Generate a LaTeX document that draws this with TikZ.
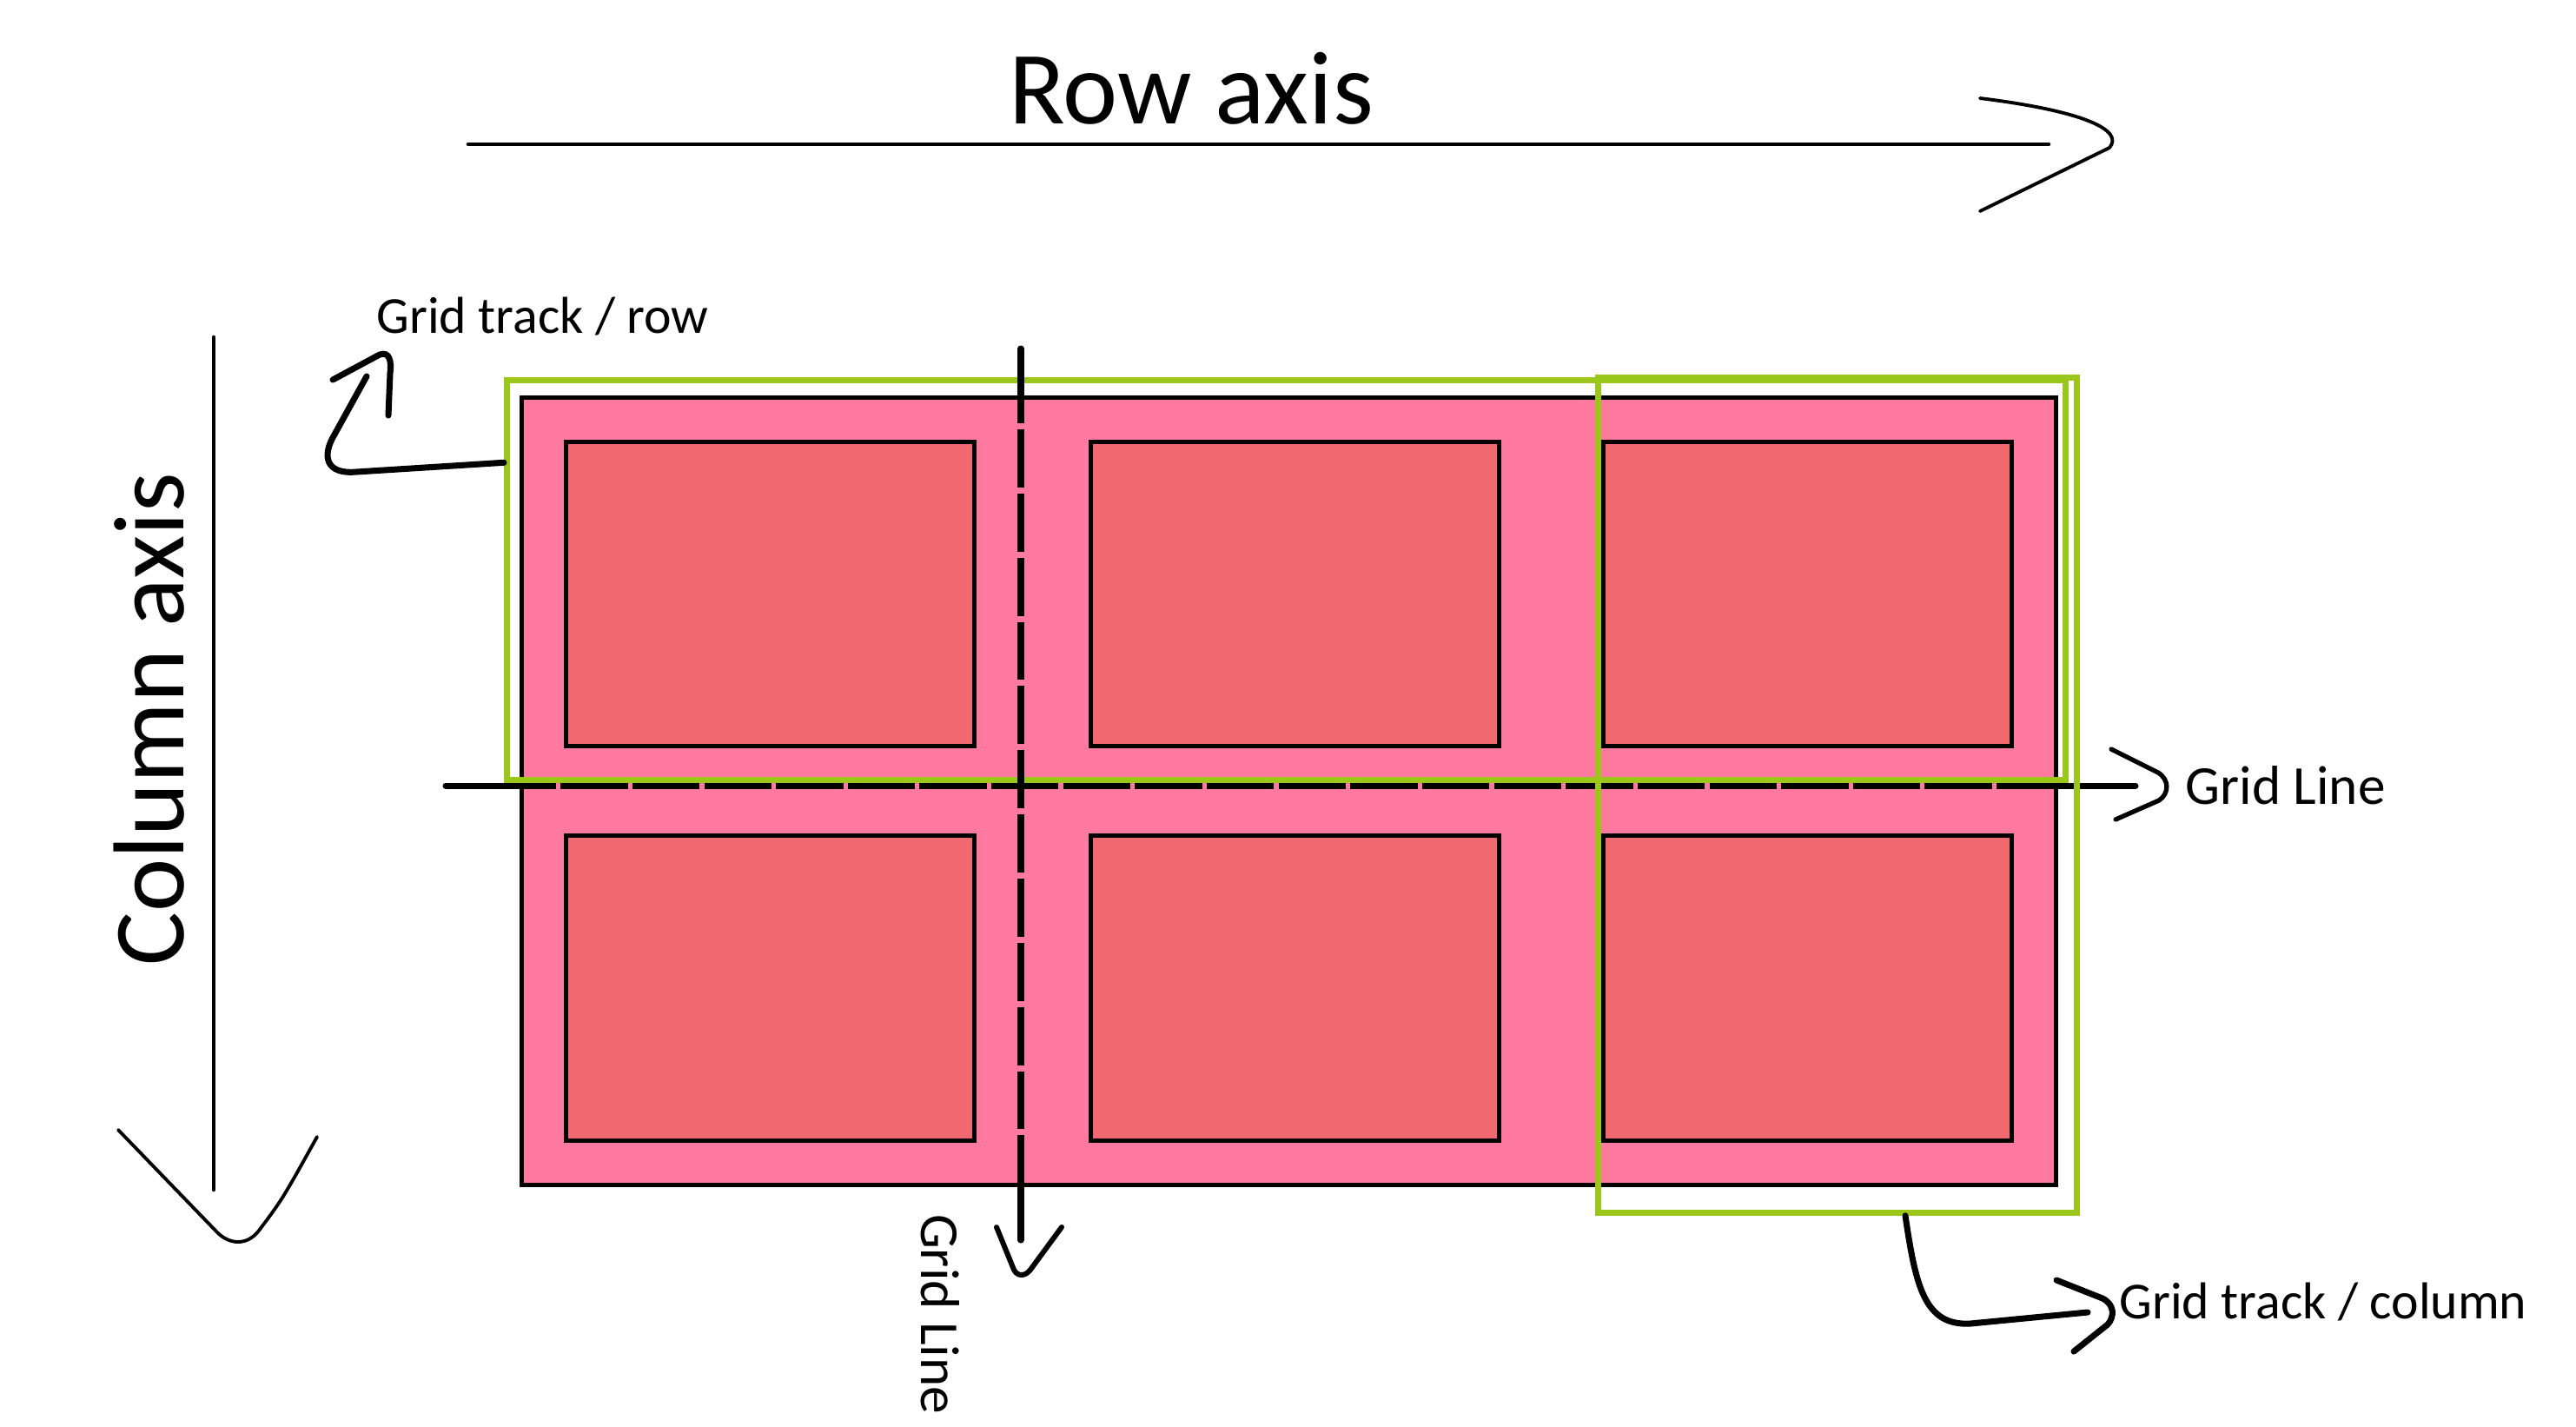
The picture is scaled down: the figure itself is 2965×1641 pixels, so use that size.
\documentclass[tikz,border=0pt]{standalone}
\usepackage{fontspec}
\setmainfont{Carlito}
\usetikzlibrary{positioning,calc}
\definecolor{gridpink}{RGB}{255,121,161}
\definecolor{cellred}{RGB}{241,104,112}
\definecolor{trackgreen}{RGB}{155,198,26}
\tikzset{
  container/.style={draw=black, fill=gridpink, line width=1.4pt, minimum width=17.65cm, minimum height=9.05cm, inner sep=0pt},
  cellbox/.style={draw=black, fill=cellred, line width=1.4pt, minimum width=4.7cm, minimum height=3.5cm, inner sep=0pt},
  trackbox/.style={draw=trackgreen, line width=2pt, inner sep=0pt},
  gridline/.style={line width=2pt, line cap=round},
  gapmark/.style={draw=gridpink, line width=2.3pt},
  axisline/.style={line width=1.3pt, line cap=round},
  handtip/.style={line width=1.1pt, line cap=round, line join=round},
  trackarrow/.style={line width=2pt, line cap=round, line join=round},
  lbl/.style={inner sep=0pt, font=\fontsize{17}{20}\selectfont},
  biglbl/.style={inner sep=0pt, font=\fontsize{34}{40}\selectfont}
}
\begin{document}
\begin{tikzpicture}[x=0.01cm, y=-0.01cm]
  \useasboundingbox (0,0) rectangle (2965,1641);
  % Grid container and its six items
  \node[container] (grid) at (1483.5,910.5) {};
  \foreach \col/\cx in {1/886.5, 2/1490.5, 3/2080.5}
    \foreach \row/\cy in {1/683.5, 2/1137}
      \node[cellbox] (item-\row-\col) at (\cx,\cy) {};
  % Horizontal grid line
  \coordinate (hline-start) at (513,904);
  \coordinate (hline-end) at (2458,904);
  \draw[gridline] (hline-start) -- (hline-end);
  \draw[gapmark, dash pattern=on 1.5pt off 22pt] (640,904) -- (2360,904);
  % Grid tracks
  \node[trackbox, minimum width=17.93cm, minimum height=4.59cm] (rowtrack) at (1480.5,667.5) {};
  \node[trackbox, minimum width=5.5cm, minimum height=9.6cm] (coltrack) at (2115,915) {};
  % Vertical grid line
  \coordinate (vline-start) at (1175,401);
  \coordinate (vline-end) at (1175,1427);
  \draw[gridline] (vline-start) -- (vline-end);
  \draw[gapmark, dash pattern=on 2pt off 19pt] (1175,487) -- (1175,1345);
  \draw[handtip, line width=1.7pt] (1147,1412) -- (1167,1461) .. controls (1171,1469) and (1180,1469) .. (1186,1461) -- (1222,1412);
  \draw[handtip, line width=1.5pt] (2430,862) -- (2484,889) .. controls (2497,897) and (2497,913) .. (2485,921) -- (2435,943);
  % Row axis
  \coordinate (rowaxis-start) at (539,166);
  \coordinate (rowaxis-end) at (2358,166);
  \draw[axisline] (rowaxis-start) -- (rowaxis-end);
  \draw[handtip] (2279,113) .. controls (2400,128) and (2445,150) .. (2428,170) -- (2279,243);
  \node[biglbl, anchor=base] (rowaxis-label) at (1371,142) {Row axis};
  % Column axis
  \coordinate (colaxis-start) at (246,388);
  \coordinate (colaxis-end) at (246,1369);
  \draw[axisline] (colaxis-start) -- (colaxis-end);
  \draw[handtip] (136,1300) -- (250,1418) .. controls (264,1432) and (284,1434) .. (298,1416) .. controls (325,1380) .. (365,1308);
  \node[biglbl, font=\fontsize{33}{40}\selectfont, rotate=90] (colaxis-label) at (172,828) {Column axis};
  % Labels
  \node[lbl, font=\fontsize{18}{20}\selectfont, right=0.57cm of hline-end] (hline-label) {Grid Line};
  \node[lbl, font=\fontsize{18}{20}\selectfont, rotate=-90] (vline-label) at (1082,1512) {Grid Line};
  \node[lbl, anchor=west] (rowtrack-label) at (433,364) {Grid track / row};
  \node[lbl, anchor=west] (coltrack-label) at (2439,1498) {Grid track / column};
  % Track pointers
  \coordinate (rowtrack-tail) at ($(rowtrack.north west)!0.21!(rowtrack.south west)$);
  \draw[trackarrow] (rowtrack-tail) -- (410,543) .. controls (375,546) and (370,525) .. (385,500) -- (422,433);
  \draw[trackarrow] (383,437) -- (437,408) .. controls (448,404) and (451,415) .. (449,430) -- (447,478);
  \coordinate (coltrack-tail) at ($(coltrack.south west)!0.64!(coltrack.south east)$);
  \draw[trackarrow] (coltrack-tail) .. controls (2205,1480) and (2215,1526) .. (2268,1523) -- (2403,1510);
  \draw[trackarrow] (2367,1473) -- (2420,1494) .. controls (2434,1501) and (2434,1515) .. (2426,1524) -- (2387,1555);
\end{tikzpicture}
\end{document}
